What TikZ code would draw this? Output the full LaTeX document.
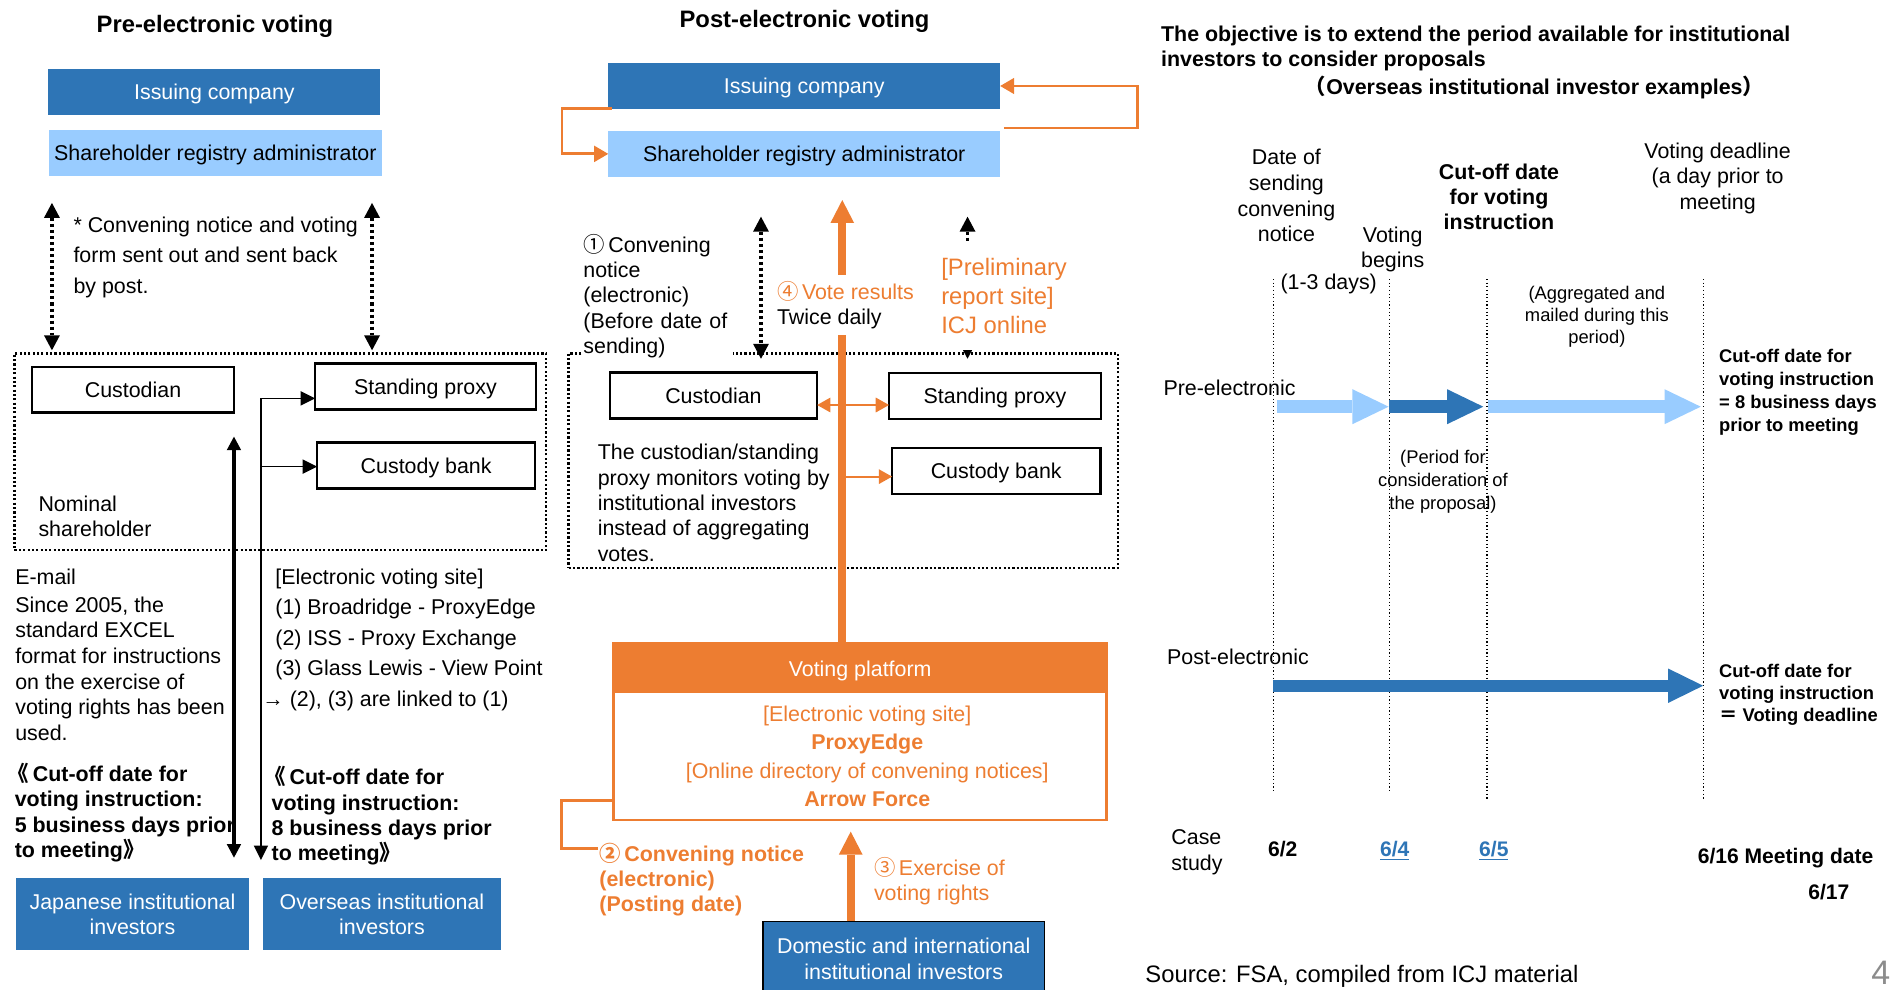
\documentclass[tikz,border=0pt]{standalone}
\usepackage{fontspec}
\setmainfont{Liberation Sans}
\newfontfamily\cjkfont{Noto Sans CJK JP}
\usetikzlibrary{arrows.meta}
\definecolor{dblue}{HTML}{2E75B6}
\definecolor{lblue}{HTML}{99CCFF}
\definecolor{orng}{HTML}{ED7D31}
\newcommand\szN{\fontsize{12.6}{14.9}\selectfont}
\newcommand\szT{\fontsize{14}{17}\selectfont}
\newcommand\openbr{\hspace*{-0.15cm}{\cjkfont 《}\hspace{0.08cm}}
\begin{document}
\begin{tikzpicture}[x=0.025cm,y=-0.025cm,
  wh/.style 2 args={minimum width=#1*0.025cm, minimum height=#2*0.025cm, outer sep=0pt},
  bluebox/.style={fill=dblue, text=white, inner sep=0pt, font=\szN, align=center, text depth=0pt},
  lbox/.style={fill=lblue, inner sep=0pt, font=\szN, text depth=0pt},
  wbox/.style={draw=black, line width=0.05cm, fill=white, inner sep=0pt, font=\szN, text depth=0pt},
  grp/.style={draw=black, line width=0.05cm, dash pattern=on 0.045cm off 0.045cm, inner sep=0pt},
  txt/.style={inner sep=0pt, font=\szN, align=left, anchor=north west},
  dotarr/.style={line width=0.07cm, dash pattern=on 0.0625cm off 0.0625cm,
     {Triangle[length=0.31cm,width=0.33cm,line width=0pt]}-{Triangle[length=0.31cm,width=0.33cm,line width=0pt]}},
  thinarr/.style={line width=0.025cm, -{Triangle[length=0.3cm,width=0.3cm,line width=0pt]}},
  thickarr/.style={line width=0.075cm, {Triangle[length=0.28cm,width=0.3cm,line width=0pt]}-{Triangle[length=0.28cm,width=0.3cm,line width=0pt]}},
  oloop/.style={draw=orng, line width=0.06cm, -{Triangle[length=0.29cm,width=0.34cm,line width=0pt]}},
  oline/.style={draw=orng, line width=0.06cm},
  othin/.style={draw=orng, line width=0.04cm, -{Triangle[length=0.275cm,width=0.31cm,line width=0pt]}},
  othinb/.style={draw=orng, line width=0.04cm, {Triangle[length=0.275cm,width=0.31cm,line width=0pt]}-{Triangle[length=0.275cm,width=0.31cm,line width=0pt]}},
  obig/.style={draw=orng, line width=0.16cm, -{Triangle[length=0.475cm,width=0.49cm,line width=0pt]}},
  tline/.style={line width=0.025cm, dash pattern=on 0.025cm off 0.05cm},
  tarr/.style={line width=0.275cm, -{Triangle[length=0.75cm,width=0.725cm,line width=0pt]}},
  parr/.style={line width=0.25cm, -{Triangle[length=0.725cm,width=0.7125cm,line width=0pt]}},
  datelbl/.style={inner sep=0pt, anchor=base, font=\bfseries\fontsize{12.4}{14}\selectfont}
]
\useasboundingbox (0,0) rectangle (1568,819);

%================ LEFT PANEL ================
\node[font=\bfseries\szT, inner sep=0pt, text depth=0pt] (preT) at (178,20) {Pre-electronic voting};
\node[bluebox, wh={275}{38}] (icL) at (177.5,76) {Issuing company};
\node[lbox, wh={276}{37.5}] (sraL) at (178.3,126.7) {Shareholder registry administrator};
\coordinate (dL1a) at (43,168); \coordinate (dL1b) at (43,290);
\coordinate (dL2a) at (308,168); \coordinate (dL2b) at (308,290);
\draw[dotarr] (dL1a) -- (dL1b);
\draw[dotarr] (dL2a) -- (dL2b);
\node[txt, font=\fontsize{12.6}{17.8}\selectfont] (postL) at (60.6,179.5) {* Convening notice and voting\\form sent out and sent back\\by post.};
\node[grp, wh={440}{163}] (nomL) at (232,374) {};
\node[wbox, wh={167}{38}] (cusL) at (110.1,322.6) {Custodian};
\node[wbox, wh={182.7}{38}] (spL) at (352.2,319.9) {Standing proxy};
\node[wbox, wh={180.5}{37.8}] (cbL) at (352.8,385.4) {Custody bank};
\node[txt] (nomT) at (31.6,410.2) {Nominal\\shareholder};
\coordinate (tj1) at (216,329.8);
\coordinate (tj2) at (216,386.3);
\coordinate (tjEnd) at (216,712);
\draw[thinarr] (tj1) -- (tj1 -| spL.west);
\draw[thinarr] (tj2) -- (tj2 -| cbL.west);
\draw[thinarr] (tj1) -- (tjEnd);
\coordinate (tkA) at (193.7,361.5); \coordinate (tkB) at (193.7,710);
\draw[thickarr] (tkA) -- (tkB);
\node[txt] (emailT) at (12.4,471) {E-mail};
\node[txt, font=\fontsize{12.6}{15.1}\selectfont] (sinceT) at (12.4,493.6) {Since 2005, the\\standard EXCEL\\format for instructions\\on the exercise of\\voting rights has been\\used.};
\node[txt, font=\fontsize{12.6}{17.9}\selectfont] (evsL) at (227.7,470.6) {[Electronic voting site]\\(1) Broadridge - ProxyEdge\\(2) ISS - Proxy Exchange\\(3) Glass Lewis - View Point};
\node[txt] (linkT) at (217,571.6) {→ (2), (3) are linked to (1)};
\node[txt, font=\bfseries\fontsize{12.6}{14.9}\selectfont] (coL) at (12,631.6) {\openbr Cut-off date for\\voting instruction:\\5 business days prior\\to meeting{\cjkfont 》}};
\node[txt, font=\bfseries\fontsize{12.6}{14.9}\selectfont] (coR) at (224.6,634.2) {\openbr Cut-off date for\\voting instruction:\\8 business days prior\\to meeting{\cjkfont 》}};
\node[bluebox, wh={192.7}{59.6}, font=\fontsize{12.6}{14.9}\selectfont] (jpI) at (109.7,756.8) {Japanese institutional\\investors};
\node[bluebox, wh={197.2}{59.6}, font=\fontsize{12.6}{14.9}\selectfont] (ovI) at (316.2,756.8) {Overseas institutional\\investors};

%================ MIDDLE PANEL ================
\node[font=\bfseries\szT, inner sep=0pt, text depth=0pt] (postT) at (666,15.5) {Post-electronic voting};
\node[bluebox, wh={324.5}{37.6}] (icM) at (665.8,71.2) {Issuing company};
\node[lbox, wh={324.5}{37.8}] (sraM) at (665.8,127.4) {Shareholder registry administrator};
\draw[oloop] (icM.south west) ++(3,0) -- ++(-41.3,0) |- (sraM.west);
\coordinate (orB) at (831,106);
\draw[oloop] (orB) -- (941.5,106) |- (icM.east);
\coordinate (dM1a) at (630,179.4); \coordinate (dM1b) at (630,297);
\coordinate (dM2a) at (801,179.4); \coordinate (dM2b) at (801,297);
\draw[dotarr] (dM1a) -- (dM1b);
\draw[dotarr] (dM2a) -- (dM2b);
\node[grp, wh={454.8}{177.5}] (nomM) at (698.2,381.25) {};
\node[wbox, wh={171.7}{38}] (cusM) at (590.65,327.3) {Custodian};
\node[wbox, wh={175.5}{38}] (spM) at (823.75,328) {Standing proxy};
\node[wbox, wh={172.5}{38}] (cbM) at (824.75,390) {Custody bank};
\node[txt, font=\fontsize{12.6}{14.9}\selectfont] (monT) at (494.6,367.6) {The custodian/standing\\proxy monitors voting by\\institutional investors\\instead of aggregating\\votes.};

\node[draw=orng, line width=0.058cm, fill=white, inner sep=0pt, wh={407.8}{146.3}] (vp) at (712.1,605.75) {};
\node[fill=orng, text=white, inner sep=0pt, font=\szN, text depth=0pt, wh={407.8}{41.4}, anchor=north] (vpH) at (vp.north) {Voting platform};
\node[inner sep=0pt, text=orng, align=center, anchor=north, font=\fontsize{12.6}{16.7}\selectfont] (vpT) at (718,584.2) {[Electronic voting site]\\\textbf{ProxyEdge}\\{}[Online directory of convening notices]\\\textbf{Arrow Force}};

\coordinate (a4t) at (697.3,165.6);
\draw[obig] (vpH.north -| a4t) -- (a4t);
\node[txt, fill=white, inner ysep=0.075cm, text width=3.1cm, font=\fontsize{12.6}{14.9}\selectfont] (c1T) at (482.7,190.5) {{\cjkfont ①}\,Convening\\notice\\(electronic)\\(Before date of\\sending)};
\node[txt, fill=white, inner ysep=0.33cm, text=orng, font=\fontsize{14}{17}\selectfont] (prelT) at (779,200.6) {[Preliminary\\report site]\\ICJ online};
\node[txt, fill=white, inner sep=0.12cm] (vrT) at (638.2,227.8) {{\color{orng}{\cjkfont ④}\,Vote results}\\Twice daily};
\coordinate (oaY) at (0,335.3);
\draw[othinb] (cusM.east |- oaY) -- (spM.west |- oaY);
\coordinate (sh2) at (700,394.6);
\draw[othin] (sh2) -- (cbM.west |- sh2);

\coordinate (y663) at (0,663);
\coordinate (olS) at (vp.west |- y663);
\coordinate (c2a) at (495,702.3);
\draw[oline] (olS) -- (465,663) |- (c2a);
\node[txt, text=orng, font=\bfseries\fontsize{12.6}{14.9}\selectfont] (c2T) at (496,697.6) {{\cjkfont ②}\,Convening notice\\(electronic)\\(Posting date)};
\node[bluebox, draw=black, line width=0.025cm, wh={233}{62}, font=\fontsize{12.6}{14.9}\selectfont] (inv) at (748.2,793.8) {Domestic and international\\institutional investors};
\coordinate (a3t) at (704.3,688.5);
\draw[obig] (inv.north -| a3t) -- (a3t);
\node[txt, text=orng, font=\fontsize{12.6}{14.9}\selectfont] (c3T) at (723.3,709.6) {{\cjkfont ③}\,Exercise of\\voting rights};

%================ RIGHT PANEL ================
\node[txt, font=\bfseries\fontsize{12.6}{14.7}\selectfont] (objT) at (961,21.2) {The objective is to extend the period available for institutional\\investors to consider proposals};
\node[txt, font=\bfseries\szN] (objT2) at (1080,62.6) {{\cjkfont （}Overseas institutional investor examples{\cjkfont ）}};

\node[inner sep=0pt, anchor=north, align=center, font=\fontsize{12.6}{15.1}\selectfont] (dsT) at (1065,123.3) {Date of\\sending\\convening\\notice};
\node[inner sep=0pt, anchor=north, align=center, font=\fontsize{12.6}{14.7}\selectfont] (vbT) at (1153,187.3) {Voting\\begins};
\node[inner sep=0pt, anchor=north, align=center, font=\bfseries\fontsize{12.6}{14.8}\selectfont] (coT) at (1241,135.6) {Cut-off date\\for voting\\instruction};
\node[inner sep=0pt, anchor=north, align=center, font=\fontsize{12.6}{15}\selectfont] (vdT) at (1422,117.8) {Voting deadline\\(a day prior to\\meeting};
\node[inner sep=0pt, anchor=north, font=\szN] (d13) at (1100,226.8) {(1-3 days)};
\node[inner sep=0pt, anchor=north, align=center, font=\fontsize{10.8}{13}\selectfont] (aggT) at (1322,236.5) {(Aggregated and\\mailed during this\\period)};
\node[inner sep=0pt, anchor=north, align=center, font=\fontsize{10.8}{13.5}\selectfont] (perT) at (1194.6,372.2) {(Period for\\consideration of\\the proposal)};
\node[txt, font=\bfseries\fontsize{10.8}{13.4}\selectfont] (co8T) at (1423,289.2) {Cut-off date for\\voting instruction\\= 8 business days\\prior to meeting};
\node[txt, font=\bfseries\fontsize{10.8}{13}\selectfont] (coVT) at (1423,549.2) {Cut-off date for\\voting instruction\\{\cjkfont ＝} Voting deadline};
\node[inner sep=0pt, anchor=base west, font=\szN] (preE) at (963,327.4) {Pre-electronic};
\node[inner sep=0pt, anchor=base west, font=\szN] (postE) at (966,550.4) {Post-electronic};

\coordinate (t1a) at (1054,231); \coordinate (t1b) at (1054,655.5);
\coordinate (t2a) at (1150,231); \coordinate (t2b) at (1150,655.5);
\coordinate (t3a) at (1231,231); \coordinate (t3b) at (1231,662.7);
\coordinate (t4a) at (1410,231); \coordinate (t4b) at (1410,662.7);
\draw[tline] (t1a) -- (t1b);
\draw[tline] (t2a) -- (t2b);
\draw[tline] (t3a) -- (t3b);
\draw[tline] (t4a) -- (t4b);

\coordinate (p1s) at (1057,336.7); \coordinate (p1e) at (1149.6,336.7);
\coordinate (p2s) at (1150,336.7); \coordinate (p2e) at (1228,336.7);
\coordinate (p3s) at (1232,336.7); \coordinate (p3e) at (1408,336.7);
\draw[tarr, draw=lblue] (p1s) -- (p1e);
\draw[tarr, draw=dblue] (p2s) -- (p2e);
\draw[tarr, draw=lblue] (p3s) -- (p3e);
\coordinate (q1s) at (1054,567.7); \coordinate (q1e) at (1410,567.7);
\draw[parr, draw=dblue] (q1s) -- (q1e);

\node[txt, font=\fontsize{12.6}{15.4}\selectfont] (caseT) at (969.5,686.3) {Case\\study};
\node[datelbl] (d62) at (1062,709) {6/2};
\node[datelbl, text=dblue] (d64) at (1154.7,709) {\underline{6/4}};
\node[datelbl, text=dblue] (d65) at (1236.7,709) {\underline{6/5}};
\node[datelbl] (d616) at (1478.3,714.5) {6/16 Meeting date};
\node[datelbl] (d617) at (1514,745) {6/17};
\node[inner sep=0pt, anchor=base west, font=\fontsize{14}{16}\selectfont] (srcT) at (948,813) {Source: FSA, compiled from ICJ material};
\node[inner sep=0pt, anchor=base west, text=black!45, font=\fontsize{20}{22}\selectfont] (pg) at (1549,815) {4};
\end{tikzpicture}
\end{document}
